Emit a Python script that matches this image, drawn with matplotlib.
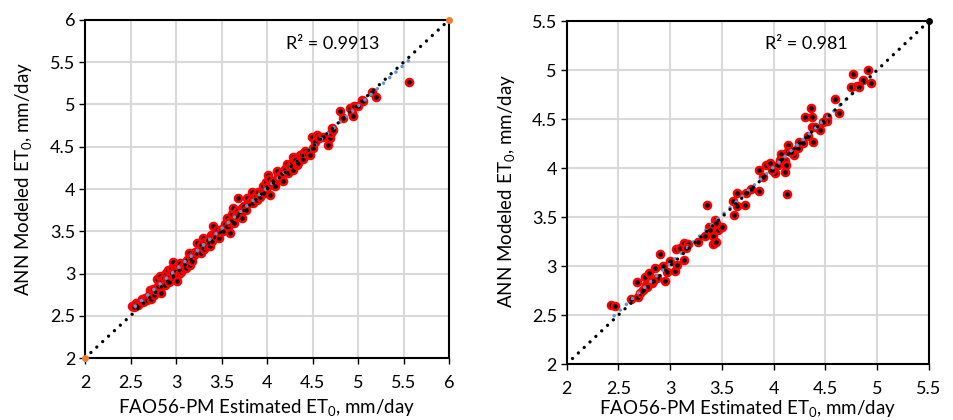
import numpy as np
import matplotlib.pyplot as plt
from matplotlib.ticker import MultipleLocator, FuncFormatter

plt.rcParams['font.family'] = ['Lato', 'DejaVu Sans']
plt.rcParams['mathtext.fontset'] = 'custom'
plt.rcParams['mathtext.rm'] = 'Lato'
plt.rcParams['mathtext.it'] = 'Lato'

# left panel: FAO56-PM vs ANN (training)
fao_a = [2.52, 2.54, 2.56, 2.58, 2.61, 2.63, 2.64, 2.66, 2.68, 2.70, 2.71, 2.72, 2.74, 2.75,
         2.76, 2.78, 2.79, 2.80, 2.82, 2.83, 2.84, 2.85, 2.87, 2.88, 2.89, 2.90, 2.91, 2.92,
         2.93, 2.95, 2.96, 2.97, 2.98, 2.99, 3.00, 3.01, 3.02, 3.03, 3.04, 3.06, 3.07, 3.08,
         3.10, 3.11, 3.12, 3.14, 3.15, 3.16, 3.18, 3.20, 3.21, 3.23, 3.24, 3.26, 3.27, 3.28,
         3.30, 3.31, 3.32, 3.34, 3.35, 3.37, 3.38, 3.40, 3.41, 3.42, 3.44, 3.45, 3.47, 3.48,
         3.50, 3.52, 3.54, 3.56, 3.57, 3.58, 3.59, 3.61, 3.62, 3.63, 3.64, 3.66, 3.67, 3.68,
         3.70, 3.72, 3.73, 3.75, 3.77, 3.78, 3.80, 3.82, 3.83, 3.85, 3.86, 3.88, 3.89, 3.90,
         3.92, 3.94, 3.96, 3.97, 3.99, 4.00, 4.01, 4.02, 4.03, 4.05, 4.07, 4.09, 4.11, 4.12,
         4.14, 4.15, 4.17, 4.18, 4.20, 4.22, 4.23, 4.25, 4.27, 4.28, 4.29, 4.31, 4.33, 4.34,
         4.36, 4.38, 4.40, 4.42, 4.44, 4.47, 4.49, 4.50, 4.53, 4.55, 4.57, 4.62, 4.67, 4.69,
         4.70, 4.71, 4.73, 4.80, 4.84, 4.91, 4.93, 4.95, 4.96, 5.00, 5.04, 5.06, 5.15, 5.20,
         5.56]
ann_a = [2.62, 2.60, 2.65, 2.63, 2.67, 2.70, 2.66, 2.71, 2.69, 2.75, 2.81, 2.70, 2.78, 2.82,
         2.74, 2.80, 2.93, 2.85, 2.97, 2.89, 2.77, 2.92, 2.95, 2.86, 3.01, 2.93, 3.04, 2.90,
         2.98, 3.05, 3.01, 3.14, 2.96, 3.07, 3.03, 2.91, 3.10, 3.00, 3.12, 3.02, 3.08, 3.05,
         3.13, 3.07, 3.16, 3.24, 3.10, 3.19, 3.15, 3.22, 3.26, 3.36, 3.25, 3.30, 3.24, 3.34,
         3.42, 3.29, 3.37, 3.33, 3.40, 3.32, 3.45, 3.38, 3.56, 3.47, 3.44, 3.51, 3.42, 3.49,
         3.53, 3.50, 3.58, 3.66, 3.55, 3.61, 3.48, 3.63, 3.70, 3.77, 3.60, 3.68, 3.74, 3.89,
         3.72, 3.66, 3.78, 3.80, 3.75, 3.89, 3.84, 3.87, 3.97, 3.83, 3.90, 3.93, 3.87, 3.96,
         3.91, 3.98, 4.03, 3.95, 4.08, 4.02, 4.17, 4.12, 3.93, 4.06, 4.10, 4.04, 4.21, 4.14,
         4.17, 4.11, 4.19, 4.09, 4.24, 4.29, 4.19, 4.27, 4.31, 4.23, 4.38, 4.34, 4.28, 4.31,
         4.40, 4.42, 4.36, 4.45, 4.41, 4.40, 4.62, 4.49, 4.56, 4.64, 4.60, 4.61, 4.52, 4.60,
         4.66, 4.72, 4.70, 4.92, 4.84, 4.96, 4.90, 4.86, 4.98, 4.98, 5.05, 5.04, 5.15, 5.09,
         5.27]

# right panel: FAO56-PM vs ANN (testing)
fao_b = [2.43, 2.47, 2.62, 2.69, 2.68, 2.71, 2.76, 2.77, 2.80, 2.82, 2.85, 2.87, 2.90, 2.93,
         2.95, 2.97, 3.00, 3.05, 3.06, 3.07, 3.09, 3.13, 3.13, 3.17, 3.27, 3.36, 3.34, 3.37,
         3.41, 3.41, 3.43, 3.44, 3.46, 3.50, 3.61, 3.62, 3.65, 3.65, 3.72, 3.73, 3.86, 3.86,
         3.90, 3.93, 3.96, 4.01, 4.04, 4.07, 4.11, 4.11, 4.12, 4.13, 4.14, 4.14, 4.20, 4.23,
         4.24, 4.28, 4.30, 4.36, 4.37, 4.37, 4.38, 4.40, 4.45, 4.51, 4.51, 4.59, 4.63, 4.75,
         4.77, 4.80, 4.86, 4.91, 4.94, 2.78, 2.83, 2.74, 3.15, 3.38, 3.44, 3.78, 3.98, 4.06,
         4.17, 4.33, 4.48, 4.82]
ann_b = [2.60, 2.59, 2.66, 2.68, 2.84, 2.72, 2.89, 2.81, 2.93, 2.83, 2.98, 2.88, 3.12, 3.00,
         2.85, 2.94, 3.05, 2.95, 3.17, 3.01, 3.18, 3.06, 3.23, 3.22, 3.25, 3.62, 3.31, 3.40,
         3.31, 3.22, 3.47, 3.25, 3.37, 3.40, 3.66, 3.52, 3.74, 3.61, 3.62, 3.74, 3.98, 3.77,
         3.91, 4.03, 4.05, 3.95, 4.03, 4.14, 4.07, 3.96, 4.03, 3.73, 4.23, 4.17, 4.13, 4.20,
         4.27, 4.26, 4.52, 4.61, 4.42, 4.52, 4.27, 4.42, 4.39, 4.52, 4.48, 4.70, 4.56, 4.83,
         4.96, 4.84, 4.90, 5.00, 4.87, 2.79, 2.85, 2.76, 3.18, 3.37, 3.44, 3.79, 3.98, 4.08,
         4.16, 4.33, 4.47, 4.83]

panels = [
    dict(x=fao_a, y=ann_a, lim=(2, 6), r2="R² = 0.9913", end_color="#ED7D31", ends=[0, 1],
         rect=[0.0891, 0.1476, 0.3816, 0.8048], ylab=(-0.140, 0.531), xlab=(0.5, -0.115),
         r2pos=(0.553, 0.929)),
    dict(x=fao_b, y=ann_b, lim=(2, 5.5), r2="R² = 0.981", end_color="black", ends=[1],
         rect=[0.594, 0.1333, 0.3798, 0.8167], ylab=(-0.137, 0.504), xlab=(0.5, -0.10),
         r2pos=(0.548, 0.933)),
]

fig = plt.figure(figsize=(9.54, 4.2), dpi=100)

for p in panels:
    ax = fig.add_axes(p["rect"])
    lo, hi = p["lim"]
    x = np.array(p["x"])
    y = np.array(p["y"])

    ax.scatter(x, y, s=26, facecolor="black", edgecolor="red", linewidth=1.8, zorder=3)

    # linear trendline over the data range
    k, b = np.polyfit(x, y, 1)
    tx = np.array([x.min(), x.max()])
    ax.plot(tx, k * tx + b, color="#5B9BD5", lw=2.6, linestyle=(1.2, (0.01, 2.3)),
            dash_capstyle="round", zorder=4)

    # 1:1 line
    ax.plot([lo, hi], [lo, hi], color="black", lw=2.4, linestyle=(0, (0.01, 2.4)),
            dash_capstyle="round", zorder=5)
    ends = np.array([lo, hi])[p["ends"]]
    ax.plot(ends, ends, linestyle="none", marker="o", ms=4,
            mfc=p["end_color"], mec=p["end_color"], clip_on=False, zorder=6)

    ax.set_xlim(lo, hi)
    ax.set_ylim(lo, hi)
    ax.xaxis.set_major_locator(MultipleLocator(0.5))
    ax.yaxis.set_major_locator(MultipleLocator(0.5))
    fmt = FuncFormatter(lambda v, pos: f"{v:g}")
    ax.xaxis.set_major_formatter(fmt)
    ax.yaxis.set_major_formatter(fmt)
    ax.grid(True, color="#D9D9D9", lw=1.5, zorder=0)
    ax.set_axisbelow(True)
    for s in ax.spines.values():
        s.set_color("black")
        s.set_linewidth(1.5)
    ax.tick_params(axis="both", direction="out", length=4, width=1, labelsize=13,
                   colors="black")
    ax.tick_params(axis="x", pad=8)
    ax.tick_params(axis="y", pad=3)

    ax.set_xlabel("FAO56-PM Estimated ET$_0$, mm/day", fontsize=13.5)
    ax.set_ylabel("ANN Modeled ET$_0$, mm/day", fontsize=13.5)
    ax.xaxis.set_label_coords(*p["xlab"])
    ax.yaxis.set_label_coords(*p["ylab"])

    ax.text(p["r2pos"][0], p["r2pos"][1], p["r2"], transform=ax.transAxes,
            fontsize=13, ha="left", va="center")

fig.savefig("out.png", dpi=100)
